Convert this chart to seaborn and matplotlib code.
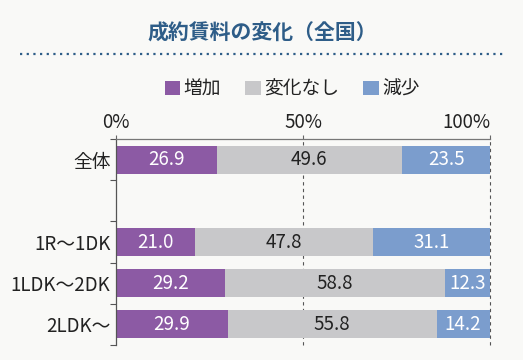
import matplotlib
matplotlib.use("Agg")
import matplotlib.pyplot as plt
from matplotlib.patches import Patch
from matplotlib.lines import Line2D
import seaborn as sns
import pandas as pd
import numpy as np

categories = ["全体", " ", "1R～1DK", "1LDK～2DK", "2LDK～"]
data_categories = ["全体", "1R～1DK", "1LDK～2DK", "2LDK～"]
increase = [26.9, 21.0, 29.2, 29.9]
unchanged = [49.6, 47.8, 58.8, 55.8]
decrease = [23.5, 31.1, 12.3, 14.2]
series_names = ["増加", "変化なし", "減少"]
x_ticks = [0, 50, 100]
x_tick_labels = ["0%", "50%", "100%"]
title = "成約賃料の変化（全国）"

colors = ["#8c5aa4", "#c8c8ca", "#7b9dcd"]
text_colors = ["white", "#222222", "white"]
bg = "#f9f9f7"
fs = 13.5

sns.set_theme(style="white")
plt.rcParams["font.family"] = ["Noto Sans CJK JP", "DejaVu Sans"]

fig = plt.figure(figsize=(5.23, 3.6), dpi=100, facecolor=bg)
ax = fig.add_axes([116/523, 1-345/360, (490-116)/523, (345-139)/360])
ax.set_facecolor(bg)

df = pd.DataFrame({"cat": data_categories, "inc": increase,
                   "unc": unchanged, "dec": decrease})
df["c1"] = df["inc"]
df["c2"] = df["inc"] + df["unc"]
df["c3"] = df["inc"] + df["unc"] + df["dec"]

for col, color in zip(["c3", "c2", "c1"], colors[::-1]):
    sns.barplot(data=df, x=col, y="cat", order=categories, color=color,
                orient="h", width=0.68, saturation=1, ax=ax, errorbar=None,
                edgecolor="none", linewidth=0, zorder=2)

# labels
for i, cat in enumerate(data_categories):
    y = categories.index(cat)
    vals = [increase[i], unchanged[i], decrease[i]]
    left = 0
    for v, tc in zip(vals, text_colors):
        right = min(left + v, 100)
        ax.text((left + right) / 2, y, f"{v:.1f}", ha="center", va="center",
                color=tc, fontsize=fs, zorder=3)
        left += v

ax.set_xlim(0, 100)
ax.set_ylim(4.5, -0.5)
ax.set_xlabel("")
ax.set_ylabel("")

ax.xaxis.tick_top()
ax.set_xticks(x_ticks)
ax.set_xticklabels(x_tick_labels)
for lbl, ha in zip(ax.get_xticklabels(), ["center", "center", "right"]):
    lbl.set_ha(ha)
ax.tick_params(axis="x", top=True, bottom=False, length=3, width=0.8, color="#666666",
               pad=1, labelsize=fs, labelcolor="#222222")
ax.set_yticks(range(len(categories)))
ax.set_yticklabels(categories)
ax.set_yticks(np.arange(-0.5, 5, 1), minor=True)
ax.tick_params(axis="y", which="major", left=False, length=0, pad=4, labelsize=fs,
               labelcolor="#222222")
ax.tick_params(axis="y", which="minor", left=True, length=4, width=0.8, color="#555555")

for xv in [50, 100]:
    ax.axvline(xv, color="#555555", linestyle=(0, (3, 3)), linewidth=0.8, zorder=1,
               clip_on=False)

ax.spines["right"].set_visible(False)
ax.spines["bottom"].set_visible(False)
ax.spines["left"].set_color("#555555")
ax.spines["left"].set_linewidth(0.9)
ax.spines["top"].set_color("#777777")
ax.spines["top"].set_linewidth(0.9)

# title and dotted rule
fig.text(262/523, 1-33/360, title, ha="center", va="center", fontsize=15,
         color="#2e5d88", fontweight="bold")
fig.add_artist(Line2D([20/523, 503/523], [1-54/360, 1-54/360], transform=fig.transFigure,
                      color="#2e5d88", linestyle=(0, (1, 2)), linewidth=1.6))

handles = [Patch(facecolor=c, edgecolor="none") for c in colors]
fig.legend(handles, series_names, loc="center", bbox_to_anchor=(292/523, 1-89/360),
           ncol=3, frameon=False, fontsize=fs, handlelength=0.85, handleheight=0.85,
           handletextpad=0.15, columnspacing=1.3, labelcolor="#222222")

fig.savefig("out.png", dpi=100, facecolor=bg)
